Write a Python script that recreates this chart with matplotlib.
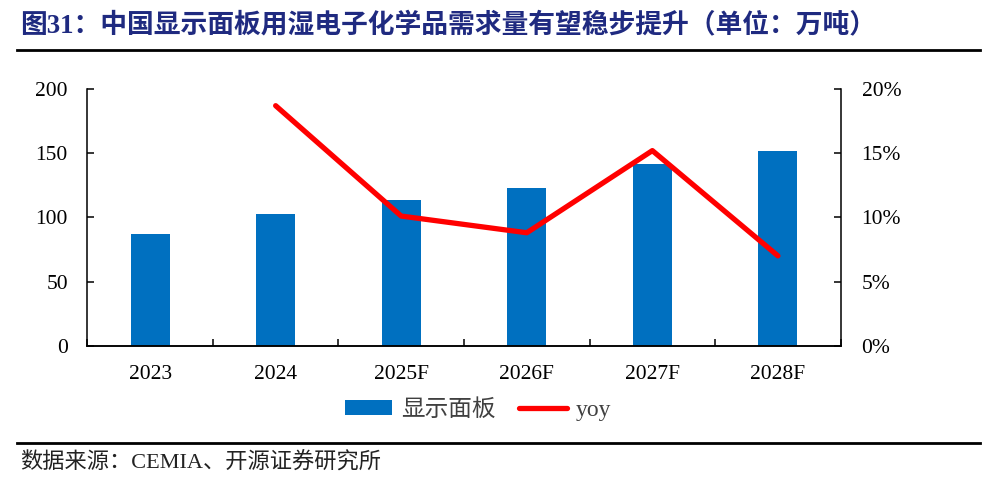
import numpy as np
import matplotlib
matplotlib.use('Agg')
import matplotlib.pyplot as plt
from matplotlib.lines import Line2D
from matplotlib.ticker import FuncFormatter

plt.rcParams['font.family'] = ['Liberation Serif', 'Noto Sans CJK SC']

years = ['2023', '2024', '2025F', '2026F', '2027F', '2028F']
panel = [86.8, 102.6, 113.3, 123.1, 141.6, 151.7]      # 万吨
yoy = [np.nan, 0.187, 0.101, 0.088, 0.152, 0.070]

W, H = 1008, 483
fig = plt.figure(figsize=(W / 100, H / 100), dpi=100)
ax = fig.add_axes([87.3 / W, 1 - 345.7 / H, (840.7 - 87.3) / W, (345.7 - 89) / H])
ax2 = ax.twinx()

x = np.arange(len(years))
bars = ax.bar(x, panel, width=0.31, color='#0070C0', label='显示面板', zorder=2)
line, = ax2.plot(x, yoy, color='#FF0000', lw=3.8, solid_capstyle='round', label='yoy', zorder=3)

ax.set_xlim(-0.5, len(years) - 0.5)
ax.set_ylim(0, 200)
ax.set_yticks([0, 50, 100, 150, 200])
ax2.set_ylim(0, 0.2)
ax2.set_yticks([0, 0.05, 0.10, 0.15, 0.20])
ax2.yaxis.set_major_formatter(FuncFormatter(lambda v, p: '%d%%' % round(v * 100)))

# ticks at category boundaries, labels at centres
ax.set_xticks(np.arange(-0.5, len(years), 1.0))
ax.set_xticklabels([])
ax.set_xticks(x, minor=True)
ax.set_xticklabels(years, minor=True)
ax.tick_params(axis='x', which='minor', length=0, pad=14, labelsize=15.5)
ax.tick_params(axis='x', which='major', direction='in', length=5, width=1.1)
ax.tick_params(axis='y', direction='in', length=5, width=1.1, pad=14, labelsize=15.5)
ax2.tick_params(axis='y', direction='in', length=5, width=1.1, pad=15, labelsize=15.5)

for a in (ax, ax2):
    a.spines['top'].set_visible(False)
    for s in a.spines.values():
        s.set_linewidth(1.1)
ax.spines['right'].set_visible(False)
ax2.spines['left'].set_visible(False)

leg = fig.legend(handles=[bars, line], labels=['显示面板', 'yoy'], ncol=2, frameon=False,
                 loc='center', bbox_to_anchor=(478 / W, 1 - 410 / H),
                 prop={'family': ['Liberation Serif', 'Noto Sans CJK SC'], 'size': 17},
                 handlelength=2.0, handleheight=0.55, handletextpad=0.4, columnspacing=1.0)
for t in leg.get_texts():
    t.set_color('#404040')

fig.text(20 / W, 1 - 26 / H, '图31：中国显示面板用湿电子化学品需求量有望稳步提升（单位：万吨）',
         fontsize=19.3, fontweight='bold', color='#1F2A80', va='center', ha='left')
fig.add_artist(Line2D([17 / W, 980 / W], [1 - 50 / H] * 2, lw=2, color='black'))
fig.add_artist(Line2D([17 / W, 980 / W], [1 - 443 / H] * 2, lw=2, color='black'))
fig.text(20 / W, 1 - 463 / H, '数据来源：CEMIA、开源证券研究所', fontsize=16,
         color='#222222', va='center', ha='left')

fig.savefig('out.png', dpi=100)
